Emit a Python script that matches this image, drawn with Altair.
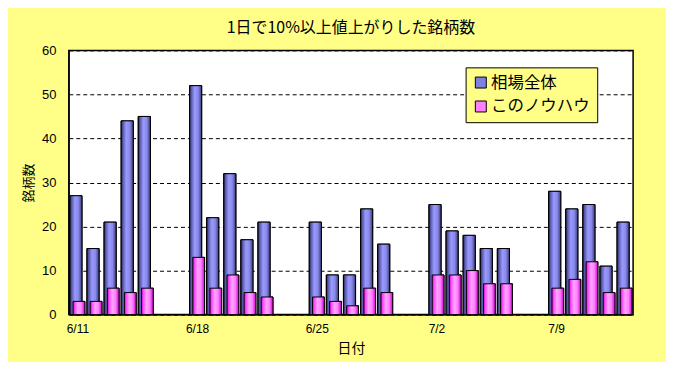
import altair as alt
import pandas as pd

# ---- data ----
dates = ["6/11", "6/12", "6/13", "6/14", "6/15",
         "6/18", "6/19", "6/20", "6/21", "6/22",
         "6/25", "6/26", "6/27", "6/28", "6/29",
         "7/2", "7/3", "7/4", "7/5", "7/6",
         "7/9", "7/10", "7/11", "7/12", "7/13"]
market_all = [27, 15, 21, 44, 45,
              52, 22, 32, 17, 21,
              21, 9, 9, 24, 16,
              25, 19, 18, 15, 15,
              28, 24, 25, 11, 21]
this_knowhow = [3, 3, 6, 5, 6,
                13, 6, 9, 5, 4,
                4, 3, 2, 6, 5,
                9, 9, 10, 7, 7,
                6, 8, 12, 5, 6]
series_names = ["相場全体", "このノウハウ"]
tick_labels = ["6/11", "6/18", "6/25", "7/2", "7/9"]


def day_index(md):
    m, d = (int(v) for v in md.split("/"))
    return d - 11 if m == 6 else 30 - 11 + d


rows = []
for dt, a, b in zip(dates, market_all, this_knowhow):
    idx = day_index(dt)
    rows.append({"date": dt, "day": idx, "series": series_names[0], "value": a})
    rows.append({"date": dt, "day": idx, "series": series_names[1], "value": b})
df = pd.DataFrame(rows)

tick_vals = [day_index(t) + 0.5 for t in tick_labels]
label_expr = " : ".join(
    [f"datum.value < {v + 1} ? '{t}'" for v, t in zip(tick_vals[:-1], tick_labels[:-1])]
) + f" : '{tick_labels[-1]}'"

FONT = "Noto Sans CJK JP"

x_scale = alt.Scale(domain=[0, 33], nice=False, zero=False, padding=0)
y_scale = alt.Scale(domain=[0, 60], nice=False, padding=0)

base = alt.Chart(df).transform_calculate(
    x0="datum.series == '相場全体' ? datum.day + 0.06 : datum.day + 0.25",
    x1="datum.series == '相場全体' ? datum.day + 0.77 : datum.day + 0.94",
)

x_enc = alt.X("x0:Q", scale=x_scale,
              axis=alt.Axis(title="日付", values=tick_vals, labelExpr=label_expr,
                            ticks=False, grid=False, domainColor="black",
                            labelFontSize=12, labelColor="black", labelPadding=9,
                            labelFont="Liberation Sans",
                            titleFont=FONT, titleFontSize=14, titleFontWeight="normal",
                            titleColor="black", titlePadding=7))
x2_enc = alt.X2("x1:Q")
y_enc = alt.Y("value:Q", scale=y_scale,
              axis=alt.Axis(title="銘柄数", values=[0, 10, 20, 30, 40, 50, 60],
                            ticks=False, grid=True, gridColor="black", gridDash=[4, 3],
                            gridWidth=1, domainColor="black", labelFontSize=13,
                            labelColor="black", labelPadding=13,
                            labelFont="Liberation Sans",
                            titleFont=FONT, titleFontSize=13, titleFontWeight="normal",
                            titleColor="black", titlePadding=6))
y2_enc = alt.Y2(datum=0)

# flat-colour layer: carries the legend, fully covered by the gradient layers
flat = base.mark_bar(stroke="black", strokeWidth=1).encode(
    x=x_enc, x2=x2_enc, y=y_enc, y2=y2_enc,
    color=alt.Color("series:N",
                    scale=alt.Scale(domain=series_names, range=["#8080e0", "#ff80ff"]),
                    legend=alt.Legend(title=None, orient="none", legendX=398, legendY=17,
                                      fillColor="#ffff88", strokeColor="black",
                                      padding=7, symbolType="square", symbolSize=121,
                                      symbolStrokeColor="black", symbolStrokeWidth=1,
                                      labelFontSize=16.5, labelFont=FONT,
                                      labelColor="black", rowPadding=7, labelOffset=2)),
    order=alt.Order("series:N", sort="descending"),
)

blue_grad = alt.LinearGradient(
    gradient="linear", x1=0, x2=1, y1=0, y2=0,
    stops=[alt.GradientStop(color="#1e1e48", offset=0),
           alt.GradientStop(color="#5a5aaa", offset=0.15),
           alt.GradientStop(color="#9999ff", offset=0.42),
           alt.GradientStop(color="#8a8aec", offset=0.7),
           alt.GradientStop(color="#3a3a78", offset=1)])
pink_grad = alt.LinearGradient(
    gradient="linear", x1=0, x2=1, y1=0, y2=0,
    stops=[alt.GradientStop(color="#c000c0", offset=0),
           alt.GradientStop(color="#ff44ff", offset=0.15),
           alt.GradientStop(color="#ffa6ff", offset=0.42),
           alt.GradientStop(color="#ff80ff", offset=0.7),
           alt.GradientStop(color="#d000d0", offset=1)])

blue = base.transform_filter(f"datum.series == '{series_names[0]}'").mark_bar(
    color=blue_grad, stroke="black", strokeWidth=1).encode(
    x=x_enc, x2=x2_enc, y=y_enc, y2=y2_enc)
pink = base.transform_filter(f"datum.series == '{series_names[1]}'").mark_bar(
    color=pink_grad, stroke="black", strokeWidth=1).encode(
    x=x_enc, x2=x2_enc, y=y_enc, y2=y2_enc)

chart = alt.layer(flat, blue, pink).properties(
    width=566, height=265,
    title=alt.Title("1日で10%以上値上がりした銘柄数", font=FONT, fontSize=16,
                    fontWeight="normal", color="black", anchor="middle", offset=8),
    padding={"left": 14, "top": 12, "right": 33, "bottom": 6},
).configure(background="#ffff88").configure_view(fill="white", stroke="black",
                                                  strokeWidth=1.5)

chart.save("out.html", embed_options={"renderer": "svg", "actions": False})
